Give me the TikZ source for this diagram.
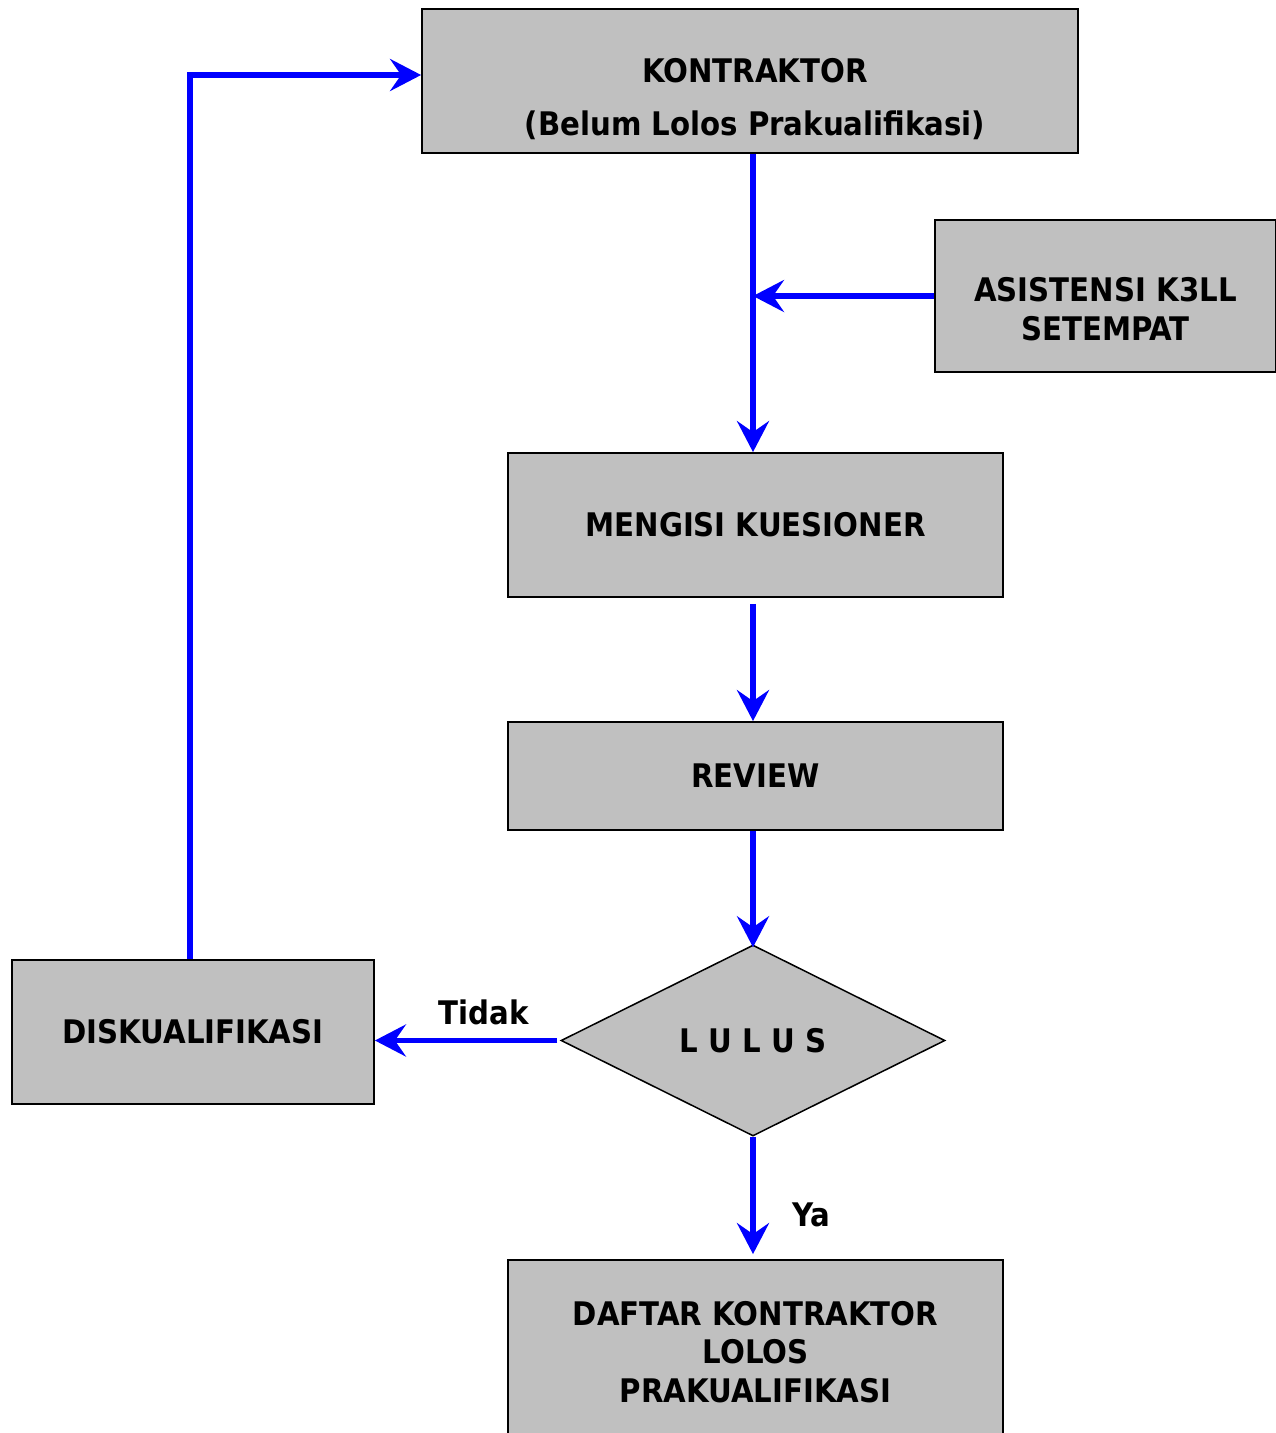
\documentclass[tikz,border=0pt]{standalone}
\usepackage{fontspec}
\setmainfont{DejaVu Sans Condensed}[BoldFont={DejaVu Sans Condensed Bold}]
\usetikzlibrary{shapes.geometric,arrows.meta}
\definecolor{boxgray}{HTML}{C0C0C0}
\definecolor{arrowblue}{HTML}{0000FF}
\begin{document}
\begin{tikzpicture}[x=1pt,y=-1pt,
  every node/.style={font=\fontsize{32.5}{38.5}\selectfont\bfseries, align=center, inner sep=0pt},
  box/.style={draw=black, line width=1.8pt, fill=boxgray},
  dec/.style={diamond, draw=black, line width=1.5pt, fill=boxgray},
  flow/.style={draw=arrowblue, line width=5.5pt, -{Stealth[length=31pt,width=32pt,inset=11pt]}},
  lbl/.style={}]
\useasboundingbox (0,0) rectangle (1276,1433);
\node[box, minimum width=656pt, minimum height=144pt,
  label={[yshift=-18pt,xshift=5pt]center:{KONTRAKTOR\\[15pt](Belum Lolos Prakualifikasi)}}] (k) at (750,81) {};
\node[box, minimum width=341pt, minimum height=152pt,
  label={[yshift=-13pt]center:{ASISTENSI K3LL\\SETEMPAT}}] (a) at (1105.5,296) {};
\node[box, minimum width=495pt, minimum height=144pt] (m) at (755.5,525) {MENGISI KUESIONER};
\node[box, minimum width=495pt, minimum height=108pt] (r) at (755.5,776) {REVIEW};
\node[dec, minimum width=384pt, minimum height=191pt, aspect=2] (d) at (753,1040.5) {L U L U S};
\node[box, minimum width=362pt, minimum height=144pt] (x) at (193,1032) {DISKUALIFIKASI};
\node[box, minimum width=495pt, minimum height=184pt] (f) at (755.5,1352) {DAFTAR KONTRAKTOR\\LOLOS\\PRAKUALIFIKASI};
\coordinate (j) at (753,296);
\coordinate (c) at (190,75);
\node[lbl] (t) at (484,1012) {Tidak};
\node[lbl] (y) at (811,1215) {Ya};
\draw[flow] (k.south -| j) -- (m.north -| j);
\draw[flow] (a.west) -- (j);
\draw[flow] ([yshift=-6pt]m.south -| j) -- (r.north -| j);
\draw[flow] (r.south -| d.north) -- ([yshift=-3pt]d.north);
\draw[flow] (d.south) -- ([yshift=5pt]f.north -| d.south);
\draw[flow] ([xshift=-3pt]d.west) -- (x.east |- d.west);
\draw[flow] (x.north -| c) |- (k.west |- c);
\end{tikzpicture}
\end{document}
